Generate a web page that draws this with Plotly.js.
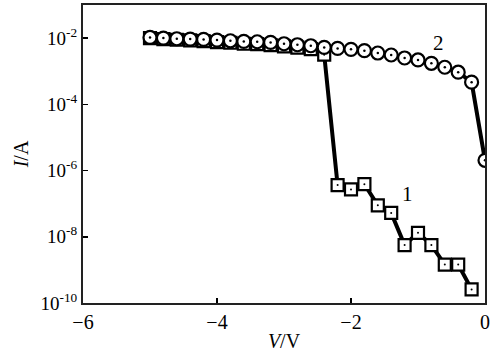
<!DOCTYPE html>
<html><head><meta charset="utf-8">
<script src="https://cdn.plot.ly/plotly-3.0.1.min.js"></script>
<style>body{margin:0;background:#fff}#c{width:490px;height:352px}</style>
</head><body><div id="c"></div>
<script>
// Voltage (V)
const vCircle = [-5.0,-4.8,-4.6,-4.4,-4.2,-4.0,-3.8,-3.6,-3.4,-3.2,-3.0,-2.8,-2.6,-2.4,-2.2,-2.0,-1.8,-1.6,-1.4,-1.2,-1.0,-0.8,-0.6,-0.4,-0.2,0.0];
// log10(I/A) for curve 2
const logICircle = [-1.98,-2.00,-2.02,-2.03,-2.04,-2.06,-2.08,-2.10,-2.11,-2.13,-2.17,-2.20,-2.23,-2.28,-2.31,-2.34,-2.38,-2.45,-2.51,-2.60,-2.66,-2.76,-2.88,-3.03,-3.33,-5.69];
const vSquare = [-5.0,-4.8,-4.6,-4.4,-4.2,-4.0,-3.8,-3.6,-3.4,-3.2,-3.0,-2.8,-2.6,-2.4,-2.2,-2.0,-1.8,-1.6,-1.4,-1.2,-1.0,-0.8,-0.6,-0.4,-0.2];
// log10(I/A) for curve 1
const logISquare = [-2.00,-2.03,-2.05,-2.07,-2.09,-2.12,-2.14,-2.17,-2.18,-2.21,-2.25,-2.29,-2.33,-2.50,-6.44,-6.57,-6.41,-7.05,-7.28,-8.25,-7.88,-8.25,-8.84,-8.84,-9.59];
const yTickVals = [1e-2,1e-4,1e-6,1e-8,1e-10];
const yTickText = ['10<sup>-2</sup>','10<sup>-4</sup>','10<sup>-6</sup>','10<sup>-8</sup>','10<sup>-10</sup>'];
const xTickVals = [-6,-4,-2,0];
const xTickText = ['\u22126','\u22124','\u22122','0'];
const curveLabels = [{text:'2', v:-0.7, logI:-2.15},{text:'1', v:-1.15, logI:-6.7}];

const iC = logICircle.map(l => Math.pow(10,l));
const iS = logISquare.map(l => Math.pow(10,l));
const serif = 'Liberation Serif, Times New Roman, serif';

const traces = [
  {x:vSquare, y:iS, mode:'lines+markers', type:'scatter', line:{color:'#000',width:4},
   marker:{symbol:'square', size:12, color:'#fff', line:{color:'#000',width:2.2}}, cliponaxis:true},
  {x:vSquare, y:iS, mode:'markers', type:'scatter', marker:{symbol:'circle', size:2, color:'#000'}, cliponaxis:true},
  {x:vCircle, y:iC, mode:'lines+markers', type:'scatter', line:{color:'#000',width:4},
   marker:{symbol:'circle', size:13, color:'#fff', line:{color:'#000',width:2.2}}, cliponaxis:true},
  {x:vCircle, y:iC, mode:'markers', type:'scatter', marker:{symbol:'circle', size:2.5, color:'#000'}, cliponaxis:true}
];

const layout = {
  width:490, height:352, showlegend:false,
  margin:{l:83, r:5, t:5, b:49},
  paper_bgcolor:'#fff', plot_bgcolor:'#fff',
  font:{family:serif, color:'#000'},
  xaxis:{range:[-6,0], tickvals:xTickVals, ticktext:xTickText, ticks:'inside', ticklen:5, tickwidth:1.5,
    tickcolor:'#000', showline:true, linecolor:'#222', linewidth:2, mirror:true, showgrid:false, zeroline:false,
    tickfont:{size:20, family:serif},
    title:{text:'<i>V</i>/V', font:{size:20, family:serif}, standoff:2}},
  yaxis:{type:'log', range:[-10,-1], tickvals:yTickVals, ticktext:yTickText, ticks:'inside', ticklen:5, tickwidth:1.5,
    tickcolor:'#000', showline:true, linecolor:'#222', linewidth:2, mirror:true, showgrid:false, zeroline:false,
    tickfont:{size:19, family:serif},
    title:{text:'<i>I</i>/A', font:{size:20, family:serif}, standoff:6}},
  annotations: curveLabels.map(c => ({x:c.v, y:c.logI, xref:'x', yref:'y', text:c.text, showarrow:false,
    font:{size:21, family:serif, color:'#000'}}))
};
Plotly.newPlot('c', traces, layout, {displayModeBar:false, staticPlot:true});
</script></body></html>
